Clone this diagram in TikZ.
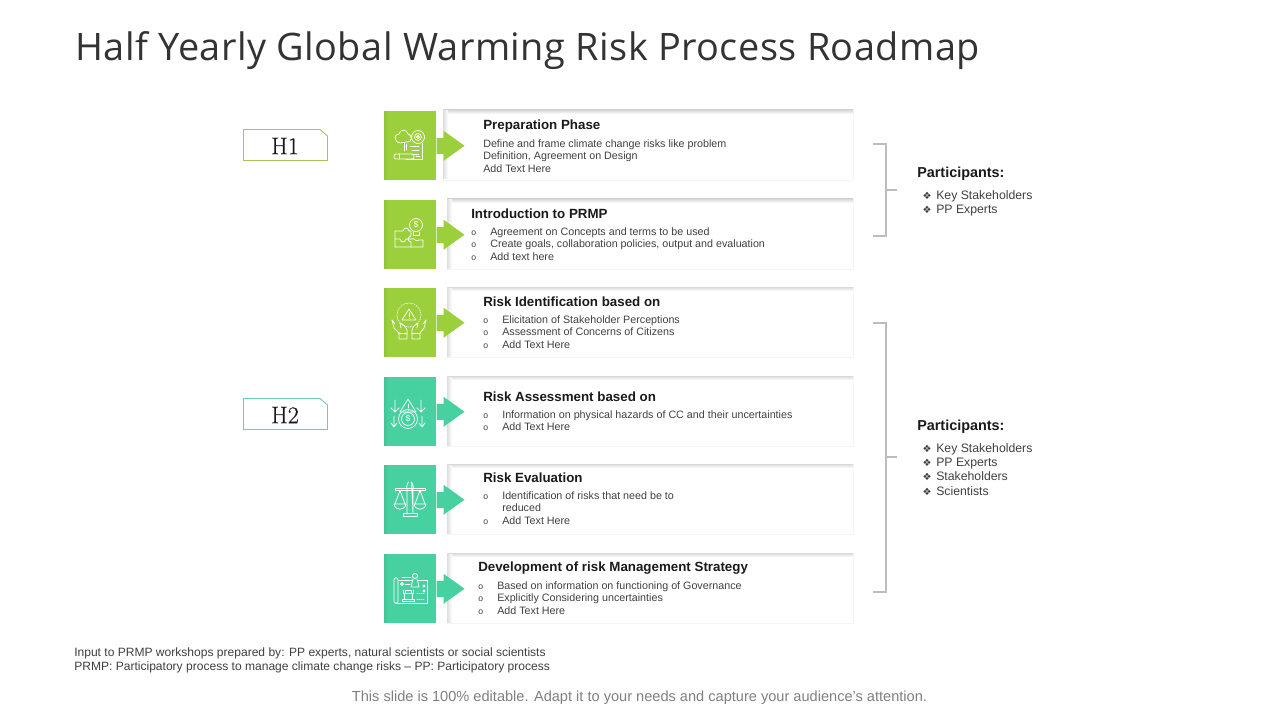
\documentclass[tikz,border=0pt]{standalone}
\usepackage{fontspec}
\setmainfont{Liberation Sans}
\newfontfamily\titlefont[LetterSpace=1.2]{Open Sans}
\newfontfamily\serifH[FakeBold=0.5]{Latin Modern Roman}
\newfontfamily\symfont{DejaVu Sans}
\definecolor{lime}{HTML}{9BCF3C}
\definecolor{limed}{HTML}{92C438}
\definecolor{teal1}{HTML}{48D1A0}
\definecolor{teald}{HTML}{42C496}
\definecolor{limeb}{HTML}{A9C45A}
\definecolor{tealb}{HTML}{72C9BA}
\definecolor{brk}{HTML}{BDBDBD}
\definecolor{bodyc}{HTML}{404040}
\definecolor{headc}{HTML}{1A1A1A}
\tikzset{
  x=0.75pt,y=-0.75pt,
  square/.style={minimum width=39pt,minimum height=51.75pt,inner sep=0pt,anchor=north west,fill=#1},
  cardbox/.style={fill=white,draw=black!4,line width=0.5pt,inner sep=0pt,anchor=north west,minimum height=52.5pt},
  heading/.style={anchor=west,inner sep=0pt,text=headc,font=\fontsize{10}{11}\selectfont\bfseries},
  body/.style={anchor=north west,inner sep=0pt,align=left,text=bodyc,font=\fontsize{8.04}{9.4}\selectfont},
  part/.style={anchor=west,inner sep=0pt,text=headc,font=\fontsize{10.8}{12}\selectfont\bfseries},
  plist/.style={anchor=north west,inner sep=0pt,align=left,text=bodyc,font=\fontsize{9.2}{10.8}\selectfont},
  foot/.style={anchor=north west,inner sep=0pt,align=left,text=bodyc,font=\fontsize{9.04}{10.9}\selectfont},
  icon/.style={draw=white,line width=0.55pt,line join=round,line cap=round},
  bracket/.style={draw=brk,line width=1.4pt},
  hbox/.style={line width=0.7pt,fill=white},
}
\newcommand{\bu}[1]{\makebox[14.25pt][l]{\fontsize{6.5}{8}\selectfont o}#1}
\newcommand{\dm}[1]{\makebox[14.25pt][l]{\hspace{4pt}\symfont\fontsize{7.5}{8}\selectfont ❖}#1}
% #1 name, #2 top y, #3 card left x, #4 colour, #5 dark colour
\newcommand{\rowblock}[5]{%
  \node[cardbox,minimum width={(853-#3)*0.75pt}] (c#1) at (#3,#2) {};
  \shade[top color=black!15,bottom color=white] (#3,#2) rectangle (853,#2+4);
  \shade[left color=black!13,right color=white] (#3,#2+1) rectangle (#3+5,#2+69);
  \node[square=#4] (s#1) at (384,#2+1) {};
  \shade[left color=#5,right color=#4] ([yshift=-0.5pt]s#1.north west) rectangle ([xshift=3pt,yshift=0.5pt]s#1.south west);
  \fill[#4] ([yshift=6pt]s#1.east) -- ++(7,0) -- ++(0,-7) -- ([xshift=21pt]s#1.east) -- ++(-21,15) -- ++(0,-7) -- ([yshift=-6pt]s#1.east) -- cycle;
}
\begin{document}
\begin{tikzpicture}
\useasboundingbox (0,0) rectangle (1280,720);
\fill[white] (0,0) rectangle (1280,720);
\node[anchor=west,inner sep=0pt,text=black!80,font=\titlefont\fontsize{28.4}{32}\selectfont] (title) at (75,51) {Half Yearly Global Warming Risk Process Roadmap};

% H boxes
\draw[hbox,draw=limeb] (243.5,129.5) -- (320,129.5) -- (327.5,136) -- (327.5,160.5) -- (243.5,160.5) -- cycle;
\node[inner sep=0pt,font=\serifH\fontsize{18}{20}\selectfont,text=black!90] (h1) at (285,146) {H1};
\draw[hbox,draw=tealb] (243.5,398.5) -- (320,398.5) -- (327.5,405) -- (327.5,429.5) -- (243.5,429.5) -- cycle;
\node[inner sep=0pt,font=\serifH\fontsize{18}{20}\selectfont,text=black!90] (h2) at (285,415) {H2};

\rowblock{a}{110}{443}{lime}{limed}
\rowblock{b}{199}{447}{lime}{limed}
\rowblock{c}{287}{447}{lime}{limed}
\rowblock{d}{376}{447}{teal1}{teald}
\rowblock{e}{464}{447}{teal1}{teald}
\rowblock{f}{553}{447}{teal1}{teald}

% texts
\node[heading] (ha) at (483,126) {Preparation Phase};
\node[body] (ba) at (483,139) {Define and frame climate change risks like problem\\Definition, Agreement on Design\\Add Text Here};
\node[heading] (hb) at (471,214) {Introduction to PRMP};
\node[body] (bb) at (471,227) {\bu{Agreement on Concepts and terms to be used}\\\bu{Create goals, collaboration policies, output and evaluation}\\\bu{Add text here}};
\node[heading] (hc) at (483,302) {Risk Identification based on};
\node[body] (bc) at (483,315) {\bu{Elicitation of Stakeholder Perceptions}\\\bu{Assessment of Concerns of Citizens}\\\bu{Add Text Here}};
\node[heading] (hd) at (483,397) {Risk Assessment based on};
\node[body] (bd) at (483,410) {\bu{Information on physical hazards of CC and their uncertainties}\\\bu{Add Text Here}};
\node[heading] (he) at (483,478) {Risk Evaluation};
\node[body] (be) at (483,491) {\bu{Identification of risks that need be to}\\\makebox[14.25pt]{}reduced\\\bu{Add Text Here}};
\node[heading] (hf) at (478,568) {Development of risk Management Strategy};
\node[body] (bf) at (478,581) {\bu{Based on information on functioning of Governance}\\\bu{Explicitly Considering uncertainties}\\\bu{Add Text Here}};

% brackets
\coordinate (p1a) at (873,144); \coordinate (p1b) at (886,144); \coordinate (p1c) at (886,236); \coordinate (p1d) at (873,236);
\coordinate (p1m) at (886,190); \coordinate (p1n) at (897,190);
\draw[bracket] (p1a) -- (p1b) -- (p1c) -- (p1d);
\draw[bracket] (p1m) -- (p1n);
\coordinate (p2a) at (873,323); \coordinate (p2b) at (886,323); \coordinate (p2c) at (886,592); \coordinate (p2d) at (873,592);
\coordinate (p2m) at (886,457); \coordinate (p2n) at (897,457);
\draw[bracket] (p2a) -- (p2b) -- (p2c) -- (p2d);
\draw[bracket] (p2m) -- (p2n);

\node[part] (pa) at (917,174) {Participants:};
\node[plist] (la) at (917,190) {\dm{Key Stakeholders}\\\dm{PP Experts}};
\node[part] (pb) at (917,427) {Participants:};
\node[plist] (lb) at (917,443) {\dm{Key Stakeholders}\\\dm{PP Experts}\\\dm{Stakeholders}\\\dm{Scientists}};

\node[foot] (fa) at (74,647) {Input to PRMP workshops prepared by: PP experts, natural scientists or social scientists\\PRMP: Participatory process to manage climate change risks -- PP: Participatory process};
\node[anchor=north,inner sep=0pt,text=black!50,font=\fontsize{10.94}{13}\selectfont] (fb) at (639.5,691) {This slide is 100\% editable. Adapt it to your needs and capture your audience's attention.};

% icon 1
\begin{scope}[shift={(410,145)},icon]
  \draw (-10,-2) .. controls (-17,-4) and (-16,-11) .. (-11,-11) .. controls (-10,-16) and (-3,-16) .. (-2,-11) .. controls (3,-10) and (2,-2) .. (-3,-3) -- cycle;
  \draw (-6,-2) -- (-6,6);
  \draw (8,-8) circle (6.5); \draw (8,-8) circle (3.5); \draw (8,-8) circle (1.5);
  \draw (-4,-1) -- (-4,5) (12,-2) -- (12,14) -- (-4,14);
  \draw (0,1) -- (9,1) (2,5) -- (9,5) (2,9) -- (9,9);
  \draw[rounded corners=1.5pt] (-16,9) rectangle (4,14);
  \draw (-11,9) -- (-11,14) (6,11) -- (10,11);
\end{scope}
% icon 2
\begin{scope}[shift={(410,234)},icon]
  \draw (-15,-3) -- (-7,-3) .. controls (-6,-7) and (-2,-7) .. (-1,-3) -- (1,-3) -- (1,2) .. controls (-3,3) and (-3,7) .. (1,8) -- (1,13) -- (-15,13) -- cycle;
  \draw (-15,5) -- (-10,5) .. controls (-9,9) and (-5,9) .. (-4,5) -- (1,5);
  \draw (1,5) .. controls (5,3) and (5,9) .. (9,6) -- (13,6) -- (13,13) -- (1,13);
  \draw (6,-9) circle (6.5);
  \draw (3,-2) -- (3,1) -- (9,1) -- (9,-2);
  \node[inner sep=0pt,text=white,font=\fontsize{6.5}{7}\selectfont] (i2) at (6,-9) {\$};
\end{scope}
% icon 3
\begin{scope}[shift={(410,322)},icon]
  \draw[densely dotted] (-1,-7) circle (12);
  \draw (-1,-13) -- (-8,-2) -- (6,-2) -- cycle;
  \draw (-1,-9) -- (-1,-5) (-1,-3.5) -- (-1,-3.2);
  \draw (-18,-2) -- (-16,6) -- (-11,11) -- (-11,17) -- (-3,17) -- (-3,8) .. controls (-4,4) and (-8,2) .. (-10,1) -- (-9,6);
  \draw (-18,-2) -- (-15,2);
  \draw (-11,11) -- (-3,11);
  \draw (16,-2) -- (14,6) -- (10,11) -- (10,17) -- (2,17) -- (2,8) .. controls (3,4) and (6,2) .. (8,1) -- (7,6);
  \draw (16,-2) -- (13,2);
  \draw (10,11) -- (2,11);
\end{scope}
% icon 4
\begin{scope}[shift={(410,411)},icon]
  \draw (-2,-12) -- (-10,1) -- (6,1) -- cycle;
  \draw (-2,-7) -- (-2,-3) (-2,-1) -- (-2,-0.7);
  \draw (-2,8) circle (9.5); \draw (-2,8) circle (6.5);
  \node[inner sep=0pt,text=white,font=\fontsize{6.5}{7}\selectfont] (i4) at (-2,8) {\$};
  \draw (-15,-11) -- (-15,1) (-19,-3) -- (-15,1) -- (-11,-3);
  \draw (11,-11) -- (11,1) (7,-3) -- (11,1) -- (15,-3);
  \draw (-16,5) -- (-16,16) (-19,12) -- (-16,16) -- (-13,12);
  \draw (12,5) -- (12,16) (9,12) -- (12,16) -- (15,12);
\end{scope}
% icon 5
\begin{scope}[shift={(410,499)},icon]
  \draw (-15,-11) rectangle (15,-8.5);
  \draw (-1.5,-17) .. controls (-4,-14) and (-3,-11) .. (-3,-8.5) -- (-3,14) (3,14) -- (3,-8.5) .. controls (3,-11) and (4,-14) .. (1.5,-17) -- cycle;
  \draw (-7,14) rectangle (7,17);
  \draw (-10,-8.5) -- (-15,5) (-10,-8.5) -- (-5,5);
  \draw (-16,5) -- (-4,5) .. controls (-5,12) and (-15,12) .. (-16,5) -- cycle;
  \draw (10,-8.5) -- (5,5) (10,-8.5) -- (15,5);
  \draw (4,5) -- (16,5) .. controls (15,12) and (5,12) .. (4,5) -- cycle;
\end{scope}
% icon 6
\begin{scope}[shift={(410,589)},icon]
  \draw (-16,-9) -- (-16,12) .. controls (-16,15) and (-12,15) .. (-12,12) -- (-12,-9) .. controls (-12,-12) and (-16,-12) .. (-16,-9);
  \draw (-12,-9) -- (2,-9) (8,-9) -- (17,-9) -- (17,14) -- (-14,14);
  \draw (5,-13) circle (2.5);
  \draw (3,-10) -- (1,-2) -- (9,-2) -- (7,-10);
  \draw (-8,-12) -- (1,-12);
  \draw (-8,-5) circle (1.5);
  \draw (-5,-5) -- (0,-5);
  \draw (-7,1) -- (-7,4) -- (-5,4) -- (-5,1) -- (1,1) -- (1,4) -- (3,4) -- (3,1);
  \draw (-6,4) rectangle (2,10);
  \draw (-8,10) rectangle (4,12.5);
  \draw[densely dotted] (7,4) -- (14,4) (7,10) -- (14,10);
  \draw (14,2) circle (1) (14,-3) circle (1);
\end{scope}
\end{tikzpicture}
\end{document}
